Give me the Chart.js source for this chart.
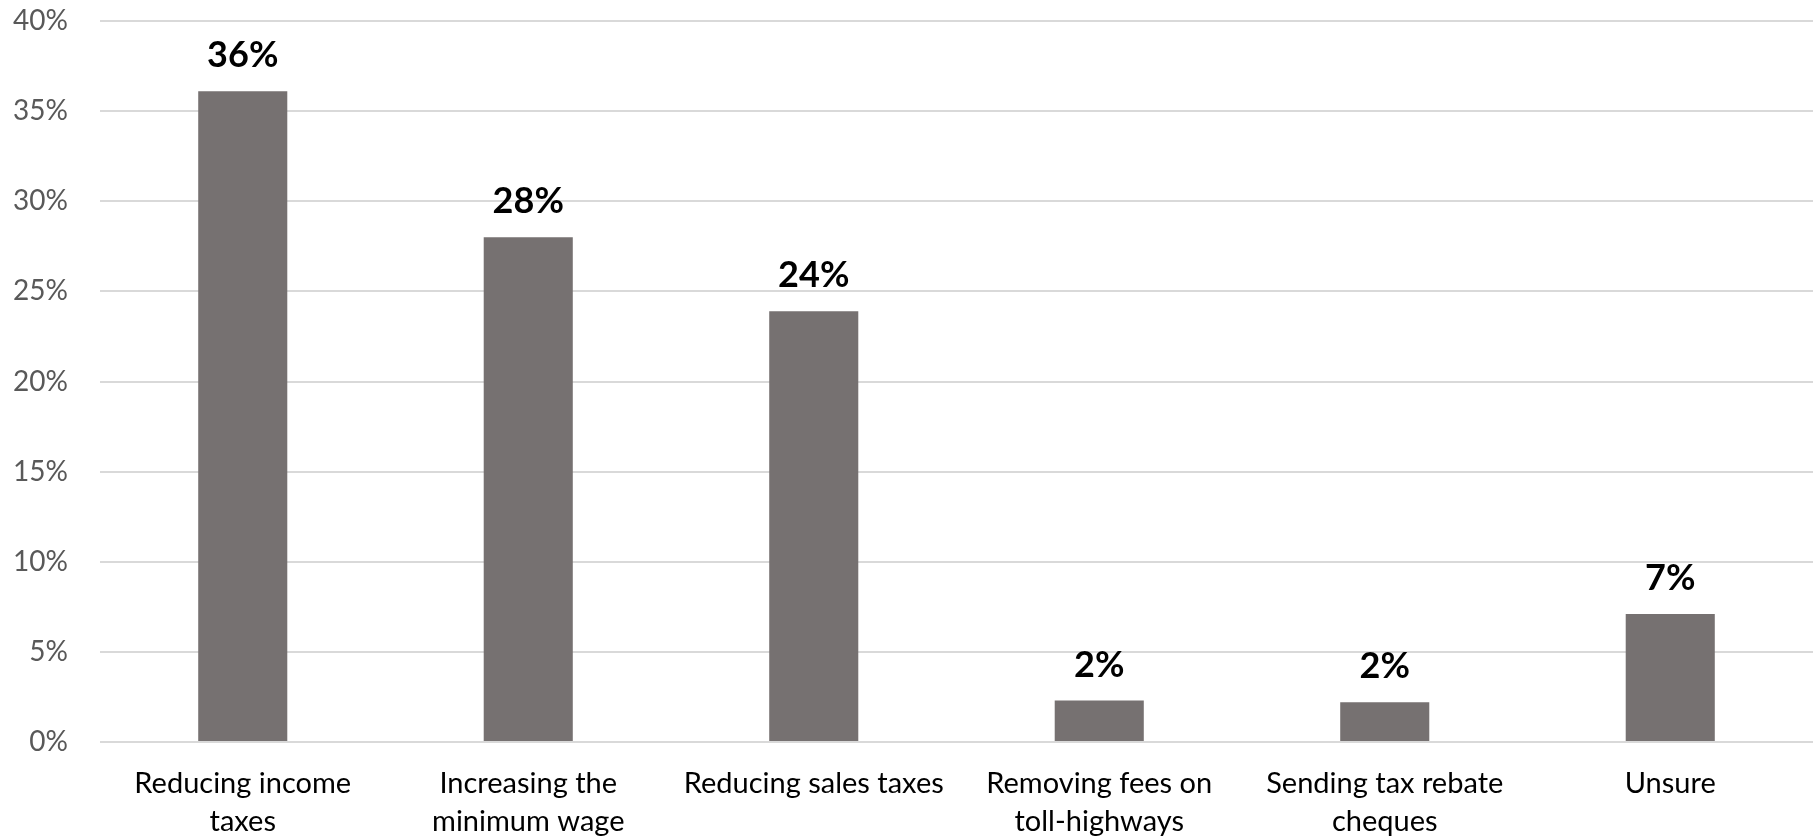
<!DOCTYPE html>
<html>
<head>
<meta charset="utf-8">
<script src="https://cdn.jsdelivr.net/npm/chart.js@4/dist/chart.umd.min.js"></script>
<style>
  html, body { margin: 0; padding: 0; background: #ffffff; }
  #wrap { width: 1818px; height: 839px; position: relative; }
</style>
</head>
<body>
<div id="wrap"><canvas id="c" width="1818" height="839"></canvas></div>
<script>
const categories = [
  ["Reducing income", "taxes"],
  ["Increasing the", "minimum wage"],
  ["Reducing sales taxes"],
  ["Removing fees on", "toll-highways"],
  ["Sending tax rebate", "cheques"],
  ["Unsure"]
];
const values = [36.1, 28.0, 23.9, 2.3, 2.2, 7.1];
const yTicks = [0, 5, 10, 15, 20, 25, 30, 35, 40];

const FONT = "Lato, 'Open Sans', sans-serif";

const valueLabels = {
  id: 'valueLabels',
  afterDatasetsDraw(chart) {
    const ctx = chart.ctx;
    const meta = chart.getDatasetMeta(0);
    ctx.save();
    ctx.font = "bold 36px " + FONT;
    ctx.fillStyle = "#000000";
    ctx.textAlign = "center";
    ctx.textBaseline = "alphabetic";
    meta.data.forEach((bar, i) => {
      ctx.fillText(Math.round(values[i]) + "%", bar.x, bar.y - 24);
    });
    ctx.restore();
  }
};

new Chart(document.getElementById('c'), {
  type: 'bar',
  data: {
    labels: categories,
    datasets: [{
      data: values,
      backgroundColor: '#767171',
      borderWidth: 0,
      categoryPercentage: 1.0,
      barPercentage: 0.312
    }]
  },
  options: {
    responsive: false,
    animation: false,
    devicePixelRatio: 1,
    layout: { padding: { top: 21, right: 5, left: 0, bottom: 0 } },
    plugins: {
      legend: { display: false },
      tooltip: { enabled: false }
    },
    scales: {
      x: {
        grid: { display: false, drawTicks: false },
        border: { display: false },
        ticks: {
          color: '#000000',
          font: { family: FONT, size: 29, lineHeight: 1.3 },
          padding: 23,
          maxRotation: 0,
          autoSkip: false
        },
        afterFit(scale) { scale.height = 97; }
      },
      y: {
        min: 0,
        max: 40,
        afterBuildTicks(scale) { scale.ticks = yTicks.map(v => ({ value: v })); },
        grid: { color: '#d9d9d9', lineWidth: 2, drawTicks: false },
        border: { display: false },
        ticks: {
          color: '#595959',
          font: { family: FONT, size: 28 },
          padding: 32,
          callback: v => v + '%'
        },
        afterFit(scale) {
          scale.width = 100;
          scale.paddingTop = 0;
          scale.paddingBottom = 0;
        }
      }
    }
  },
  plugins: [valueLabels]
});
</script>
</body>
</html>
